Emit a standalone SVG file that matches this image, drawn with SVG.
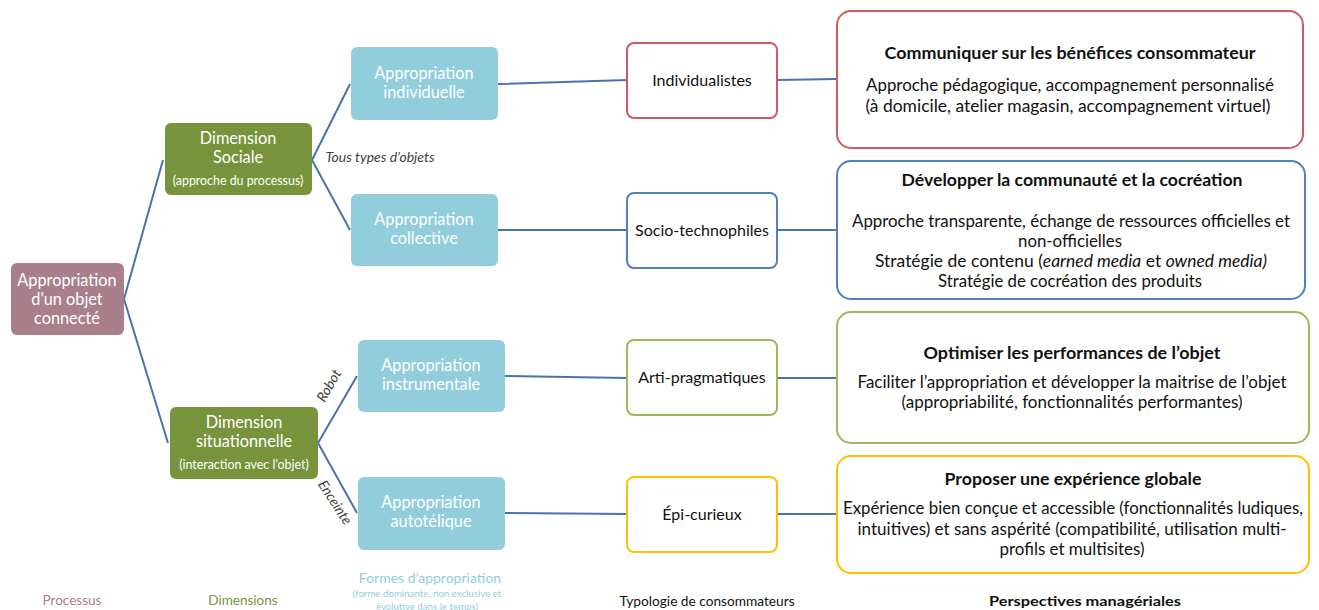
<svg xmlns="http://www.w3.org/2000/svg" width="1319" height="610" viewBox="0 0 1319 610">
<style>
text{font-family:Lato,"Open Sans","Liberation Sans",sans-serif;text-anchor:middle}
.w{fill:#fff;font-size:16.3px}
.ws{fill:#fff;font-size:12.4px}
.k{fill:#111;font-size:17px}
.kt{fill:#111;font-size:16px}
.kb{fill:#111;font-size:17.5px;font-weight:bold}
.it{fill:#404040;font-size:14px;font-style:italic}
.c{stroke:#4a72b0;stroke-width:2;fill:none}
.app{fill:#92cddc}
.dim{fill:#77933c}
.typ{fill:#fff;stroke-width:2}
</style>
<rect width="1319" height="610" fill="#fff"/>
<g id="connectors">
<path class="c" d="M124,299 L163,160 M124,299 L168,443"/>
<path class="c" d="M312,160 L350,84 M312,160 L350,230"/>
<path class="c" d="M318,443 L357,376 M318,443 L357,513"/>
<path class="c" d="M498,84 L627,80 M498,230 L627,230 M505,376 L627,378 M505,513 L627,514"/>
<path class="c" d="M777,80 L837,79 M777,230 L837,230 M777,378 L837,378 M777,514 L837,514"/>
</g>
<g id="root">
<rect x="11" y="263" width="113" height="72" rx="6" fill="#a97f8b"/>
<text class="w" x="67" y="286">Appropriation</text>
<text class="w" x="67" y="305">d'un objet</text>
<text class="w" x="67" y="324">connecté</text>
</g>
<g id="dim-sociale">
<rect class="dim" x="165" y="123" width="147" height="72" rx="6"/>
<text class="w" x="238" y="144">Dimension</text>
<text class="w" x="238" y="163">Sociale</text>
<text class="ws" x="238" y="185">(approche du processus)</text>
</g>
<g id="dim-situationnelle">
<rect class="dim" x="170" y="407" width="148" height="72" rx="6"/>
<text class="w" x="244" y="428">Dimension</text>
<text class="w" x="244" y="447">situationnelle</text>
<text class="ws" x="244" y="469">(interaction avec l’objet)</text>
</g>
<g id="app-individuelle">
<rect class="app" x="351" y="47" width="147" height="73" rx="6"/>
<text class="w" x="424" y="79">Appropriation</text>
<text class="w" x="424" y="98">individuelle</text>
</g>
<g id="app-collective">
<rect class="app" x="351" y="194" width="147" height="72" rx="6"/>
<text class="w" x="424" y="225">Appropriation</text>
<text class="w" x="424" y="244">collective</text>
</g>
<g id="app-instrumentale">
<rect class="app" x="358" y="340" width="147" height="72" rx="6"/>
<text class="w" x="431" y="371">Appropriation</text>
<text class="w" x="431" y="390">instrumentale</text>
</g>
<g id="app-autotelique">
<rect class="app" x="358" y="477" width="147" height="73" rx="6"/>
<text class="w" x="431" y="508">Appropriation</text>
<text class="w" x="431" y="527">autotélique</text>
</g>
<g id="typ-individualistes">
<rect class="typ" x="627" y="43" width="150" height="75" rx="7" stroke="#cf5c5c"/>
<text class="kt" x="702" y="86">Individualistes</text>
</g>
<g id="typ-socio">
<rect class="typ" x="627" y="193" width="150" height="75" rx="7" stroke="#4f81bd"/>
<text class="kt" x="702" y="236">Socio-technophiles</text>
</g>
<g id="typ-arti">
<rect class="typ" x="627" y="340" width="150" height="75" rx="7" stroke="#9bbb59"/>
<text class="kt" x="702" y="383">Arti-pragmatiques</text>
</g>
<g id="typ-epi">
<rect class="typ" x="627" y="477" width="150" height="75" rx="7" stroke="#ffc000"/>
<text class="kt" x="702" y="520">Épi-curieux</text>
</g>
<g id="persp-1">
<rect class="typ" x="837" y="11" width="466" height="137" rx="14" stroke="#cf5c5c"/>
<text class="kb" x="1070" y="59" textLength="371" lengthAdjust="spacingAndGlyphs">Communiquer sur les bénéfices consommateur</text>
<text class="k" x="1070" y="91" textLength="408" lengthAdjust="spacingAndGlyphs">Approche pédagogique, accompagnement personnalisé</text>
<text class="k" x="1068" y="112" textLength="405" lengthAdjust="spacingAndGlyphs">(à domicile, atelier magasin, accompagnement virtuel)</text>
</g>
<g id="persp-2">
<rect class="typ" x="837" y="161" width="468" height="138" rx="14" stroke="#4f81bd"/>
<text class="kb" x="1072" y="186" textLength="341" lengthAdjust="spacingAndGlyphs">Développer la communauté et la cocréation</text>
<text class="k" x="1071" y="227" textLength="438" lengthAdjust="spacingAndGlyphs">Approche transparente, échange de ressources officielles et</text>
<text class="k" x="1070" y="247" textLength="104" lengthAdjust="spacingAndGlyphs">non-officielles</text>
<text class="k" x="1071" y="267" textLength="392" lengthAdjust="spacingAndGlyphs">Stratégie de contenu (<tspan font-style="italic">earned media</tspan> et <tspan font-style="italic">owned media)</tspan></text>
<text class="k" x="1070" y="287" textLength="264" lengthAdjust="spacingAndGlyphs">Stratégie de cocréation des produits</text>
</g>
<g id="persp-3">
<rect class="typ" x="837" y="312" width="472" height="131" rx="14" stroke="#9bbb59"/>
<text class="kb" x="1072" y="359" textLength="297" lengthAdjust="spacingAndGlyphs">Optimiser les performances de l’objet</text>
<text class="k" x="1072" y="388" textLength="429" lengthAdjust="spacingAndGlyphs">Faciliter l’appropriation et développer la maitrise de l’objet</text>
<text class="k" x="1072" y="408" textLength="341" lengthAdjust="spacingAndGlyphs">(appropriabilité, fonctionnalités performantes)</text>
</g>
<g id="persp-4">
<rect class="typ" x="837" y="456" width="472" height="117" rx="14" stroke="#ffc000"/>
<text class="kb" x="1073" y="485" textLength="257" lengthAdjust="spacingAndGlyphs">Proposer une expérience globale</text>
<text class="k" x="1073" y="514" textLength="460" lengthAdjust="spacingAndGlyphs">Expérience bien conçue et accessible (fonctionnalités ludiques,</text>
<text class="k" x="1072" y="535" textLength="429" lengthAdjust="spacingAndGlyphs">intuitives) et sans aspérité (compatibilité, utilisation multi-</text>
<text class="k" x="1072" y="555" textLength="145" lengthAdjust="spacingAndGlyphs">profils et multisites)</text>
</g>
<g id="edge-labels">
<text class="it" x="380" y="162">Tous types d’objets</text>
<text class="it" transform="translate(333,388) rotate(-60)">Robot</text>
<text class="it" transform="translate(331,505) rotate(57)">Enceinte</text>
</g>
<g id="legend">
<text x="72" y="605" style="fill:#a97f8b;font-size:13.5px">Processus</text>
<text x="243" y="605" style="fill:#77933c;font-size:13.5px">Dimensions</text>
<text x="430" y="583" style="fill:#92cddc;font-size:14px">Formes  d’appropriation</text>
<text x="427" y="597" style="fill:#92cddc;font-size:9.7px">(forme dominante, non exclusive et</text>
<text x="427" y="610" style="fill:#92cddc;font-size:9.7px">évolutive dans le temps)</text>
<text x="707" y="606" style="fill:#111;font-size:13.7px">Typologie de consommateurs</text>
<text x="1085" y="606" style="fill:#111;font-size:14px;font-weight:bold" textLength="192" lengthAdjust="spacingAndGlyphs">Perspectives managériales</text>
</g>
</svg>
